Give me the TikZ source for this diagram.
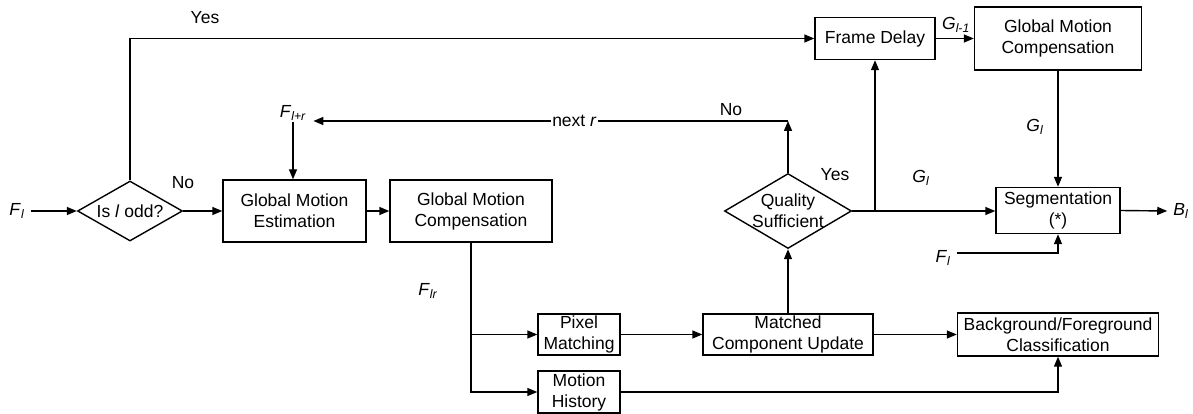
\documentclass[tikz,border=0pt]{standalone}
\usepackage{fontspec}
\setmainfont{Liberation Sans}
\usetikzlibrary{arrows.meta,shapes.geometric}
\newcommand\symb[2]{\textit{#1}\textsubscript{\textit{#2}}}
\begin{document}
\begin{tikzpicture}[x=1pt,y=-1pt,
  font=\fontsize{17.5}{21}\selectfont,
  blk/.style={draw,line width=1.4pt,inner sep=0pt,align=center},
  dec/.style={draw,diamond,line width=1.4pt,inner sep=0pt},
  conn/.style={line width=1.4pt,-{Triangle[length=10pt,width=8pt]}},
  plain/.style={line width=1.4pt},
  lbl/.style={inner sep=1pt}]
\useasboundingbox (0,0) rectangle (1193,414);

% decisions
\node[dec,minimum width=105pt,minimum height=60pt,label={center:Is \textit{l} odd?}] (odd) at (130,211) {};
\node[dec,minimum width=127pt,minimum height=75pt,label={[align=center]center:Quality\\Sufficient}] (qs) at (788,211) {};

% boxes
\node[blk,minimum width=143pt,minimum height=62pt] (gme) at (294.5,211) {Global Motion\\Estimation};
\node[blk,minimum width=162pt,minimum height=62pt] (gmc) at (471,211) {Global Motion\\Compensation};
\node[blk,minimum width=120pt,minimum height=42pt] (fd) at (875,38.5) {Frame Delay};
\node[blk,minimum width=167pt,minimum height=63pt] (gmc2) at (1058,38.5) {Global Motion\\Compensation};
\node[blk,minimum width=124pt,minimum height=46pt] (seg) at (1058,210.5) {Segmentation\\(*)};
\node[blk,minimum width=82pt,minimum height=41pt] (pm) at (579,334.5) {Pixel\\Matching};
\node[blk,minimum width=82pt,minimum height=42pt] (mh) at (579,392) {Motion\\History};
\node[blk,minimum width=170pt,minimum height=41pt] (mcu) at (788,334.5) {Matched\\Component Update};
\node[blk,minimum width=201pt,minimum height=43pt] (bg) at (1058,334.5) {Background/Foreground\\Classification};

% labels
\node[lbl] (fl) at (17,211) {\symb{F}{l}};
\node[lbl] (flpr) at (293,113) {\symb{F}{l+r}};
\node[lbl] (flr) at (428,291) {\symb{F}{lr}};
\node[lbl] (gl1) at (956,25) {\symb{G}{l-1}};
\node[lbl] (glA) at (921,178) {\symb{G}{l}};
\node[lbl] (glB) at (1035,127) {\symb{G}{l}};
\node[lbl] (fl2) at (943,258) {\symb{F}{l}};
\node[lbl] (bl) at (1181,211) {\symb{B}{l}};
\node[lbl] (yes1) at (205,18) {Yes};
\node[lbl] (no1) at (183,183) {No};
\node[lbl] (no2) at (731,110) {No};
\node[lbl] (yes2) at (835,175) {Yes};

% connectors
\draw[conn] ([xshift=5pt]fl.east) -- (odd.west);
\draw[conn] (odd.east) -- (gme.west);
\draw[conn] (odd.north) |- (fd.west);
\draw[conn] (gme.east) -- (gmc.west);
\draw[conn] (gmc.south) |- (mh.west);
\draw[conn] (gmc.south |- pm.west) -- (pm.west);
\draw[conn] (pm.east) -- (mcu.west);
\draw[conn] (mcu.east) -- (bg.west);
\draw[conn] (mh.east) -| (bg.south);
\draw[conn] (mcu.north) -- (qs.south);
\coordinate (nr) at (788,121);
\draw[conn] (qs.north) -- (nr);
\draw[conn] (nr) -- node[pos=0.45,fill=white,inner sep=1pt] (nextr) {next \textit{r}} ([xshift=6pt]flpr.east |- nr);
\draw[conn] (flpr.south) -- (flpr.south |- gme.north);
\coordinate (j) at (875,211);
\draw[conn] (qs.east) -- (qs.east -| seg.west);
\draw[conn] (j) -- (fd.south);
\draw[conn] (fd.east) -- (fd.east -| gmc2.west);
\draw[conn] (gmc2.south) -- (seg.north);
\draw[conn] ([shift={(5pt,5pt)}]fl2.east) -| (seg.south);
\draw[conn] (seg.east) -- ([xshift=-5pt]bl.west);
\end{tikzpicture}
\end{document}
